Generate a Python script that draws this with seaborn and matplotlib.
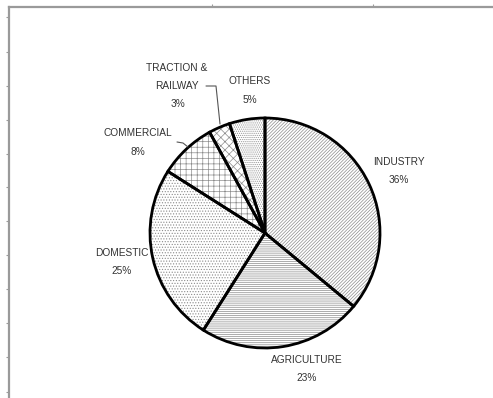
import matplotlib
matplotlib.use("Agg")
import matplotlib.pyplot as plt
import seaborn as sns

# ---- data ----
categories = ["INDUSTRY", "AGRICULTURE", "DOMESTIC", "COMMERCIAL", "TRACTION &\nRAILWAY", "OTHERS"]
shares = [36, 23, 25, 8, 3, 5]
pct_labels = ["36%", "23%", "25%", "8%", "3%", "5%"]
hatches = ["//////////", "--------", "......", "+++", "xxxx", "........"]

sns.set_theme(style="white")
plt.rcParams["font.family"] = ["Liberation Sans", "DejaVu Sans"]
plt.rcParams["hatch.linewidth"] = 0.5

W, H = 493, 398
fig = plt.figure(figsize=(W / 100, H / 100), dpi=100)
fig.patch.set_facecolor("white")

# ---- frame (scanned chart border) ----
fax = fig.add_axes([9 / W, -0.1, 1.0, (1 - 7 / H) + 0.1])
fax.set_facecolor("none")
fax.set_xlim(9, 9 + W)
fax.set_ylim(7 + (H - 7) + 0.1 * H, 7)
for s in ["right", "bottom"]:
    fax.spines[s].set_visible(False)
for s in ["left", "top"]:
    fax.spines[s].set_color("#9a9a9a")
    fax.spines[s].set_linewidth(1.6)
fax.set_yticks([17, 52, 86, 120, 154, 187, 221, 255, 289, 323, 357, 392])
fax.set_xticks([212, 373])
fax.xaxis.tick_top()
fax.tick_params(axis="both", length=2.5, width=0.8, color="#9a9a9a",
                labelleft=False, labeltop=False, labelbottom=False, left=True, top=True)

# ---- pie ----
ax = fig.add_axes([0, 0, 1, 1])
ax.set_facecolor("none")
cx, cy, r = 265, H - 233, 115

wedges, _ = ax.pie(shares, startangle=90, counterclock=False, center=(cx, cy),
                   radius=r, frame=True, colors=["white"] * len(shares),
                   wedgeprops=dict(edgecolor="#8c8c8c", linewidth=0))
for w, h in zip(wedges, hatches):
    w.set_hatch(h)
ax.pie(shares, startangle=90, counterclock=False, center=(cx, cy), radius=r,
       frame=True, colors=["none"] * len(shares),
       wedgeprops=dict(edgecolor="black", linewidth=2.0, fill=False))

ax.set_xlim(0, W)
ax.set_ylim(0, H)
ax.set_aspect("auto")
ax.axis("off")

# ---- labels ----
label_pos = [(399, 162), (307, 360), (122, 253), (138, 133), (177, 77), (250, 81)]
pct_pos = [(399, 180), (307, 378), (122, 271), (138, 152), (178, 104), (250, 100)]
tc = "#333333"
for name, p, lp, pp in zip(categories, pct_labels, label_pos, pct_pos):
    ax.text(lp[0], H - lp[1], name, ha="center", va="center", fontsize=7.3,
            color=tc, linespacing=1.9)
    ax.text(pp[0], H - pp[1], p, ha="center", va="center", fontsize=7.3, color=tc)

# leader lines
ax.plot([206, 216, 220], [H - 86, H - 86, H - 124], color="#555555", lw=0.8)
ax.plot([177, 183, 188], [H - 142, H - 143, H - 147], color="#555555", lw=0.8)

fig.savefig("out.png", dpi=100, facecolor="white")
